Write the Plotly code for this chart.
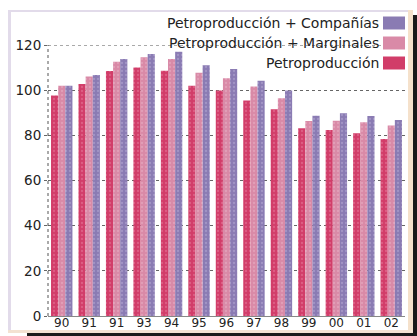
import plotly.graph_objects as go

# Year labels as printed under each group (the third group is labelled "91" on the original)
years = ["90", "91", "91", "93", "94", "95", "96", "97", "98", "99", "00", "01", "02"]

# Index values per series
petro = [97.6, 102.7, 108.5, 110.0, 108.6, 102.0, 99.8, 95.4, 91.5, 83.1, 82.4, 80.9, 78.4]
petro_marg = [102.0, 106.0, 112.6, 114.6, 113.8, 107.7, 105.3, 101.6, 96.4, 86.4, 86.5, 85.8, 84.3]
petro_comp = [102.0, 106.7, 113.8, 116.0, 117.0, 111.0, 109.4, 104.2, 99.8, 88.7, 89.8, 88.6, 86.8]

y_ticks = [0, 20, 40, 60, 80, 100, 120]

series = [
    ("Petroproducción", petro, "#d13d69", "#e77fa0"),
    ("Petroproducción + Marginales", petro_marg, "#d98aa7", "#eab3c7"),
    ("Petroproducción + Compañías", petro_comp, "#8a7bb3", "#b9aed6"),
]

x = list(range(len(years)))

fig = go.Figure()
for name, vals, col, dot in series:
    fig.add_trace(go.Bar(
        x=x, y=vals, name=name,
        marker=dict(
            color=col, line=dict(width=0),
            pattern=dict(shape=".", fillmode="overlay", fgcolor=dot, size=4, solidity=0.25),
        ),
        showlegend=False,
    ))

FONT = "DejaVu Sans"

fig.update_layout(
    width=417, height=336,
    margin=dict(l=48, r=12, t=45, b=20),
    paper_bgcolor="white", plot_bgcolor="white",
    barmode="group", bargap=0.22, bargroupgap=0,
    font=dict(family=FONT, size=12, color="#222"),
)
fig.update_xaxes(
    range=[-0.5, len(years) - 0.5], automargin=False,
    tickmode="array", tickvals=x, ticktext=years,
    showgrid=False, ticks="", tickfont=dict(size=12, color="#222"),
    ticklabelstandoff=-4,
    showline=True, linecolor="#888", linewidth=1,
)
fig.update_yaxes(
    range=[0, 120], tickvals=y_ticks, automargin=False,
    showgrid=True, gridcolor="#666", griddash="dot", gridwidth=1,
    zeroline=False, showline=False,
    ticks="outside", ticklen=3, tickcolor="#666",
    tickfont=dict(size=13.5, color="#222"),
)

# Dotted left axis and the top grid line at 120
fig.add_shape(type="line", xref="paper", yref="paper", x0=0, x1=0, y0=0, y1=1,
              line=dict(color="#555", width=1, dash="dot"))
fig.add_shape(type="line", xref="paper", yref="y", x0=0, x1=1, y0=120, y1=120,
              line=dict(color="#555", width=1, dash="dot"))

# Legend drawn as right-aligned labels with the colour swatch on the right
legend_rows = [
    ("Petroproducción + Compañías", "#8a7bb3", 23),
    ("Petroproducción + Marginales", "#d98aa7", 43),
    ("Petroproducción", "#d13d69", 63),
]
for label, col, ypx in legend_rows:
    fig.add_annotation(
        xref="paper", yref="paper", x=(381 - 48) / 357, y=(316 - ypx) / 271,
        text=label, showarrow=False, xanchor="right", yanchor="middle",
        font=dict(family=FONT, size=14, color="#222"),
    )
    fig.add_shape(
        type="rect", xref="paper", yref="paper",
        x0=(383 - 48) / 357, x1=(405 - 48) / 357,
        y0=(316 - ypx - 6.5) / 271, y1=(316 - ypx + 6.5) / 271,
        fillcolor=col, line=dict(width=0),
    )

# Card frame: light borders and a dark drop shadow
def px_rect(x0, y0, x1, y1, color):
    fig.add_shape(
        type="rect", xref="paper", yref="paper",
        x0=(x0 - 48) / 357, x1=(x1 - 48) / 357,
        y0=(316 - y1) / 271, y1=(316 - y0) / 271,
        fillcolor=color, line=dict(width=0), layer="below",
    )

px_rect(413, 15, 417, 336, "#1a1a1a")
px_rect(27, 333, 417, 336, "#1a1a1a")
px_rect(8, 10, 413, 12, "#e2dbea")
px_rect(8, 10, 11, 332, "#e2dbea")
px_rect(408, 10, 413, 333, "#f5e1cb")
px_rect(8, 330, 413, 333, "#f3e2d2")

fig.write_html("out.html")
